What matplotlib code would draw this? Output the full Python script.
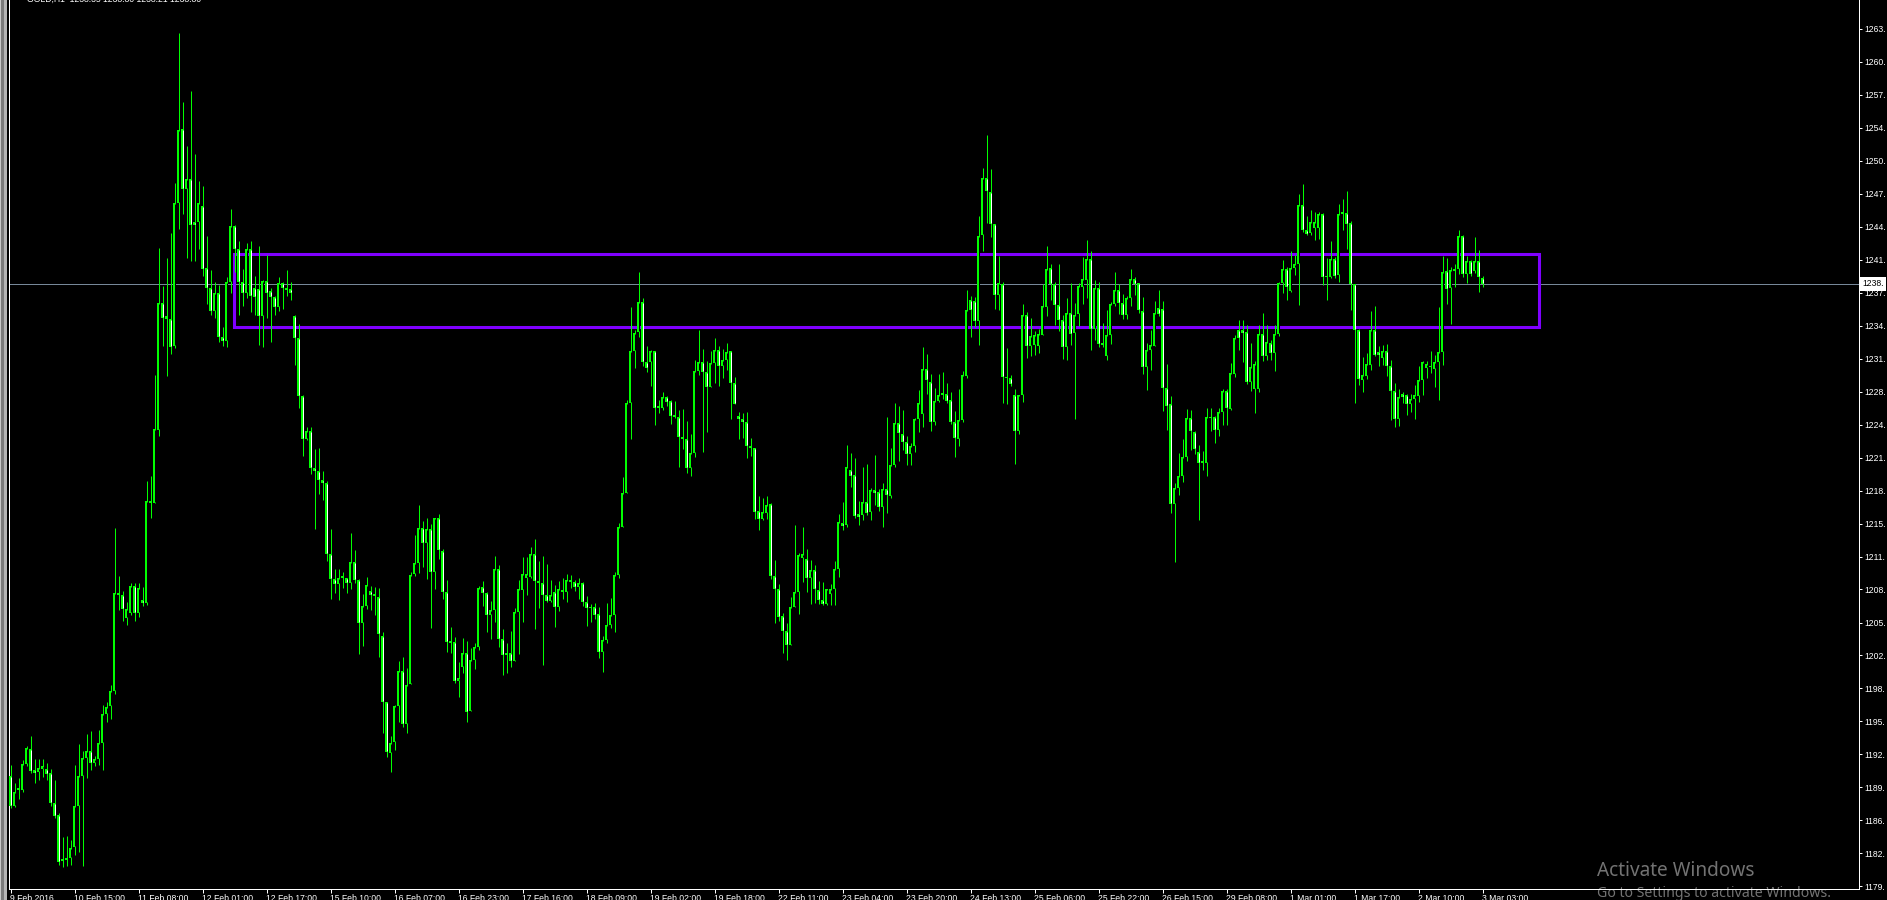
import matplotlib
matplotlib.use('Agg')
import matplotlib.pyplot as plt
from matplotlib.patches import Rectangle
import matplotlib.transforms as mtransforms

plt.rcParams['font.family'] = ['Liberation Sans', 'DejaVu Sans']

# GOLD H1, 9 Feb 2016 .. 3 Mar 2016 03:00 (one entry per hourly bar)
opens = [
    1190.4, 1187.4, 1189.0, 1189.0, 1191.6, 1193.0, 1191.0, 1190.8, 1191.1, 1191.1,
    1190.7, 1187.7, 1186.5, 1182.2, 1182.1, 1182.3, 1183.4, 1187.4, 1190.4, 1192.1,
    1192.8, 1191.7, 1192.0, 1193.6, 1196.5, 1197.3, 1198.7, 1208.4, 1208.2, 1205.9,
    1206.4, 1209.1, 1206.4, 1207.7, 1207.4, 1217.4, 1217.2, 1224.4, 1236.9, 1235.6,
    1235.4, 1232.7, 1246.8, 1254.1, 1248.1, 1249.1, 1244.9, 1244.9, 1246.5, 1240.4,
    1238.4, 1236.1, 1237.9, 1233.6, 1233.2, 1239.0, 1244.5, 1242.2, 1239.0, 1237.9,
    1242.2, 1238.4, 1238.3, 1235.6, 1239.1, 1238.1, 1237.5, 1236.5, 1238.9, 1238.4,
    1238.3, 1235.6, 1233.5, 1227.8, 1223.5, 1224.3, 1220.7, 1220.4, 1219.5, 1219.2,
    1212.2, 1209.8, 1209.3, 1209.9, 1209.9, 1209.4, 1211.4, 1209.7, 1205.4, 1207.1,
    1208.6, 1208.3, 1208.0, 1204.2, 1197.7, 1192.6, 1193.7, 1197.3, 1200.7, 1195.5,
    1199.4, 1210.3, 1211.3, 1214.8, 1213.3, 1214.7, 1210.5, 1215.8, 1212.5, 1208.5,
    1203.7, 1203.6, 1199.7, 1201.1, 1202.5, 1196.8, 1201.8, 1203.1, 1209.0, 1208.4,
    1206.2, 1206.7, 1210.7, 1203.9, 1202.5, 1202.5, 1201.7, 1206.5, 1208.7, 1209.9,
    1210.0, 1212.2, 1209.6, 1209.4, 1208.2, 1207.6, 1208.5, 1207.0, 1208.7, 1208.5,
    1209.7, 1209.5, 1209.0, 1209.4, 1207.5, 1207.0, 1207.0, 1206.3, 1202.6, 1203.8,
    1205.2, 1206.2, 1210.2, 1214.9, 1218.2, 1227.1, 1232.2, 1234.1, 1237.0, 1231.1,
    1231.1, 1232.2, 1226.8, 1226.6, 1227.7, 1227.3, 1225.9, 1225.7, 1223.7, 1223.5,
    1220.7, 1222.2, 1230.2, 1231.1, 1230.1, 1228.7, 1231.0, 1232.3, 1230.7, 1231.3,
    1232.2, 1229.1, 1225.8, 1225.5, 1225.2, 1222.9, 1222.7, 1216.5, 1215.7, 1216.3,
    1217.1, 1210.1, 1208.8, 1206.1, 1204.6, 1203.3, 1207.0, 1208.5, 1211.8, 1211.7,
    1209.9, 1210.6, 1208.7, 1207.7, 1207.3, 1208.3, 1208.8, 1210.7, 1215.3, 1215.1,
    1220.5, 1220.0, 1216.2, 1216.1, 1217.3, 1216.4, 1218.5, 1218.3, 1216.8, 1218.6,
    1217.9, 1221.0, 1225.1, 1224.0, 1223.2, 1222.1, 1222.9, 1225.5, 1226.0, 1230.4,
    1229.2, 1225.2, 1227.3, 1228.1, 1228.0, 1227.4, 1225.2, 1223.5, 1225.4, 1229.7,
    1237.2, 1237.1, 1235.2, 1243.6, 1249.2, 1247.9, 1244.7, 1237.7, 1238.8, 1229.6,
    1229.5, 1227.9, 1224.3, 1227.9, 1235.7, 1232.7, 1232.8, 1232.7, 1233.8, 1236.5,
    1240.4, 1238.8, 1236.7, 1235.3, 1232.6, 1235.9, 1234.0, 1235.8, 1238.5, 1239.2,
    1241.3, 1234.4, 1238.4, 1233.0, 1231.7, 1233.8, 1236.8, 1238.2, 1236.9, 1235.7,
    1237.4, 1239.3, 1238.9, 1236.1, 1230.6, 1232.3, 1232.7, 1236.4, 1236.3, 1228.6,
    1227.0, 1217.1, 1218.7, 1219.9, 1221.8, 1225.6, 1224.2, 1222.3, 1221.4, 1221.2,
    1225.7, 1225.7, 1224.4, 1226.2, 1228.3, 1226.5, 1229.9, 1234.3, 1234.3, 1234.1,
    1229.2, 1228.5, 1228.5, 1233.9, 1231.7, 1233.0, 1232.0, 1233.9, 1238.9, 1240.3,
    1238.1, 1240.4, 1240.8, 1246.6, 1244.1, 1243.8, 1244.3, 1244.3, 1245.7, 1239.6,
    1239.5, 1241.3, 1239.7, 1245.9, 1245.8, 1244.8, 1238.8, 1234.3, 1229.3, 1229.7,
    1230.8, 1234.3, 1232.1, 1231.5, 1232.2, 1230.7, 1228.3, 1225.5, 1228.0, 1227.9,
    1227.0, 1227.5, 1227.8, 1229.3, 1230.5, 1230.6, 1230.4, 1231.1, 1232.1, 1240.1,
    1238.4, 1240.1, 1240.3, 1243.5, 1239.8, 1241.1, 1240.1, 1241.1, 1239.4,
]
highs = [
    1191.5, 1189.7, 1190.2, 1191.9, 1193.3, 1194.3, 1192.0, 1192.0, 1192.0, 1191.7,
    1191.1, 1190.0, 1186.7, 1184.4, 1184.5, 1184.1, 1191.5, 1193.5, 1192.8, 1194.5,
    1194.8, 1192.3, 1194.9, 1197.4, 1197.7, 1199.3, 1214.8, 1210.1, 1208.6, 1207.5,
    1209.4, 1209.4, 1209.4, 1209.0, 1219.4, 1219.9, 1229.8, 1242.3, 1238.6, 1241.4,
    1243.8, 1248.7, 1263.5, 1256.7, 1252.4, 1257.8, 1251.6, 1248.9, 1248.4, 1243.5,
    1240.2, 1239.0, 1238.7, 1234.6, 1239.5, 1246.2, 1244.6, 1243.0, 1240.3, 1242.8,
    1243.0, 1239.6, 1242.5, 1239.2, 1241.7, 1238.4, 1237.6, 1239.5, 1239.0, 1240.2,
    1239.0, 1235.7, 1234.9, 1227.9, 1224.7, 1224.7, 1222.6, 1222.7, 1220.4, 1219.4,
    1214.7, 1210.7, 1210.7, 1210.5, 1209.9, 1214.3, 1212.6, 1209.8, 1208.3, 1210.0,
    1209.1, 1209.0, 1208.9, 1204.5, 1197.7, 1194.3, 1197.4, 1201.7, 1202.1, 1201.0,
    1210.5, 1214.1, 1217.0, 1215.5, 1215.8, 1215.2, 1215.8, 1216.2, 1212.7, 1209.7,
    1205.0, 1204.1, 1201.6, 1204.0, 1203.7, 1203.0, 1203.5, 1209.1, 1209.6, 1208.5,
    1207.6, 1212.0, 1211.1, 1204.8, 1203.5, 1204.6, 1206.9, 1209.7, 1211.9, 1211.9,
    1212.9, 1213.7, 1211.5, 1212.0, 1211.2, 1209.7, 1209.2, 1209.6, 1209.9, 1210.3,
    1210.2, 1209.7, 1209.9, 1209.5, 1208.1, 1207.3, 1207.4, 1207.0, 1204.2, 1207.4,
    1207.9, 1210.5, 1215.3, 1219.8, 1227.4, 1236.5, 1234.3, 1240.0, 1237.4, 1232.7,
    1232.3, 1232.2, 1227.4, 1228.2, 1227.8, 1227.4, 1227.3, 1226.4, 1226.5, 1225.3,
    1224.0, 1231.3, 1234.3, 1232.4, 1231.2, 1232.2, 1233.5, 1232.7, 1232.4, 1233.0,
    1232.2, 1229.6, 1226.2, 1226.1, 1226.2, 1223.6, 1222.7, 1217.9, 1217.7, 1217.9,
    1217.2, 1211.6, 1209.3, 1206.4, 1205.4, 1208.0, 1215.1, 1212.3, 1214.9, 1212.7,
    1211.6, 1211.1, 1209.6, 1209.5, 1208.8, 1209.3, 1211.5, 1216.2, 1217.3, 1223.0,
    1222.2, 1221.7, 1217.4, 1220.8, 1221.1, 1218.7, 1222.0, 1218.6, 1219.2, 1225.7,
    1222.7, 1227.1, 1226.8, 1226.4, 1223.8, 1223.1, 1225.6, 1228.4, 1232.6, 1231.9,
    1229.9, 1228.6, 1229.9, 1230.1, 1229.1, 1228.2, 1226.3, 1228.5, 1230.2, 1238.2,
    1237.6, 1237.5, 1245.5, 1250.2, 1253.5, 1250.1, 1244.7, 1241.6, 1239.0, 1232.5,
    1229.8, 1228.5, 1227.9, 1236.8, 1236.0, 1235.5, 1234.2, 1234.4, 1238.8, 1242.5,
    1240.8, 1239.0, 1240.8, 1235.7, 1237.4, 1238.9, 1236.9, 1238.9, 1241.5, 1243.1,
    1242.0, 1239.2, 1239.0, 1235.0, 1236.2, 1237.0, 1240.0, 1238.8, 1237.8, 1237.6,
    1240.3, 1239.5, 1238.9, 1237.5, 1233.0, 1234.3, 1237.1, 1238.2, 1237.1, 1230.9,
    1227.8, 1219.2, 1222.2, 1223.5, 1226.5, 1226.4, 1224.3, 1223.0, 1222.4, 1226.6,
    1226.6, 1225.8, 1226.6, 1228.5, 1228.5, 1231.0, 1233.8, 1235.3, 1235.3, 1234.8,
    1233.0, 1231.2, 1234.8, 1235.9, 1234.8, 1233.3, 1234.8, 1239.0, 1241.2, 1240.5,
    1242.0, 1241.7, 1247.7, 1248.6, 1245.5, 1246.1, 1245.9, 1245.9, 1245.8, 1241.4,
    1243.0, 1241.5, 1246.7, 1247.2, 1248.0, 1245.0, 1238.8, 1234.4, 1231.6, 1232.0,
    1236.1, 1236.6, 1232.7, 1232.8, 1232.9, 1231.3, 1229.1, 1228.5, 1228.2, 1228.0,
    1228.0, 1228.9, 1230.7, 1231.2, 1231.2, 1232.2, 1231.8, 1236.5, 1241.6, 1241.4,
    1240.5, 1240.8, 1244.1, 1243.6, 1241.6, 1241.2, 1243.4, 1242.1, 1239.6,
]
lows = [
    1187.2, 1187.3, 1188.1, 1188.8, 1191.4, 1190.7, 1189.7, 1190.0, 1190.3, 1190.0,
    1187.4, 1186.2, 1181.6, 1181.4, 1181.5, 1181.6, 1182.6, 1182.9, 1181.5, 1190.2,
    1191.0, 1191.4, 1191.5, 1191.0, 1195.7, 1196.0, 1198.4, 1206.7, 1205.6, 1205.2,
    1206.2, 1205.6, 1206.0, 1207.1, 1207.2, 1215.8, 1217.2, 1223.8, 1232.7, 1229.7,
    1231.9, 1232.5, 1244.2, 1245.7, 1241.4, 1241.1, 1241.1, 1242.2, 1239.6, 1236.8,
    1235.7, 1235.5, 1233.1, 1232.7, 1232.6, 1237.9, 1240.0, 1235.7, 1236.6, 1237.4,
    1236.0, 1235.7, 1232.8, 1232.6, 1235.5, 1233.1, 1235.7, 1236.1, 1236.3, 1237.6,
    1237.2, 1230.8, 1226.6, 1221.9, 1223.4, 1220.1, 1214.7, 1218.1, 1217.5, 1211.5,
    1207.8, 1208.4, 1207.7, 1208.9, 1208.4, 1208.8, 1209.4, 1202.4, 1203.2, 1206.8,
    1206.7, 1206.2, 1202.1, 1194.6, 1192.2, 1190.8, 1192.9, 1195.7, 1195.2, 1194.6,
    1199.4, 1210.1, 1210.4, 1210.9, 1209.8, 1204.9, 1208.8, 1211.7, 1207.8, 1202.6,
    1202.5, 1199.5, 1198.1, 1200.5, 1195.7, 1196.8, 1200.9, 1202.8, 1207.1, 1204.5,
    1203.9, 1205.5, 1203.1, 1200.3, 1200.5, 1201.1, 1201.7, 1202.4, 1205.5, 1208.2,
    1209.9, 1204.8, 1206.9, 1201.3, 1207.5, 1207.5, 1205.0, 1206.6, 1207.8, 1207.5,
    1208.9, 1208.6, 1207.8, 1207.1, 1205.1, 1205.5, 1205.8, 1202.0, 1200.6, 1203.5,
    1204.9, 1204.5, 1209.9, 1214.9, 1218.2, 1223.5, 1230.5, 1233.6, 1230.7, 1230.1,
    1228.8, 1224.9, 1226.1, 1226.4, 1226.8, 1225.0, 1225.6, 1220.8, 1222.6, 1220.2,
    1219.9, 1221.8, 1229.8, 1222.3, 1224.2, 1228.7, 1229.1, 1228.8, 1229.5, 1230.3,
    1225.5, 1227.0, 1223.5, 1223.6, 1221.7, 1221.9, 1215.7, 1214.6, 1215.6, 1215.7,
    1209.8, 1205.4, 1205.6, 1202.5, 1201.8, 1203.3, 1207.0, 1206.3, 1209.5, 1208.5,
    1207.3, 1207.4, 1207.3, 1207.2, 1207.2, 1207.2, 1207.2, 1210.0, 1214.6, 1214.9,
    1218.8, 1215.8, 1215.1, 1215.6, 1216.1, 1215.6, 1217.0, 1216.5, 1214.9, 1216.3,
    1217.7, 1220.8, 1221.4, 1222.5, 1221.0, 1221.0, 1222.3, 1224.2, 1224.7, 1228.0,
    1224.3, 1224.9, 1227.2, 1227.5, 1227.1, 1225.0, 1221.8, 1222.9, 1225.2, 1229.5,
    1233.6, 1234.6, 1232.8, 1242.0, 1244.8, 1243.4, 1236.3, 1236.2, 1227.1, 1227.0,
    1228.8, 1221.1, 1224.0, 1227.2, 1231.5, 1231.7, 1231.8, 1232.0, 1233.8, 1235.6,
    1237.2, 1234.8, 1234.2, 1231.4, 1231.3, 1232.8, 1225.5, 1234.7, 1236.8, 1237.4,
    1232.3, 1233.3, 1232.6, 1232.6, 1231.3, 1232.9, 1236.6, 1235.8, 1235.4, 1235.4,
    1236.6, 1237.7, 1235.9, 1229.9, 1228.4, 1230.3, 1232.7, 1235.6, 1226.3, 1224.4,
    1216.3, 1211.4, 1218.0, 1219.3, 1221.4, 1222.5, 1222.1, 1215.6, 1220.5, 1219.9,
    1224.3, 1223.1, 1223.8, 1224.9, 1224.9, 1226.4, 1229.6, 1232.3, 1231.1, 1229.0,
    1228.3, 1226.1, 1228.2, 1231.2, 1231.3, 1231.3, 1230.2, 1233.7, 1237.9, 1237.2,
    1238.0, 1239.7, 1236.7, 1243.9, 1243.6, 1243.6, 1243.1, 1243.2, 1238.7, 1237.2,
    1239.4, 1239.4, 1239.0, 1244.1, 1242.2, 1236.2, 1227.1, 1228.9, 1228.2, 1229.4,
    1230.3, 1231.7, 1230.7, 1230.8, 1229.7, 1225.4, 1224.7, 1224.8, 1227.1, 1225.9,
    1226.2, 1225.5, 1227.2, 1227.9, 1229.5, 1230.0, 1228.7, 1227.4, 1230.8, 1236.8,
    1234.9, 1238.5, 1239.8, 1239.5, 1238.9, 1239.6, 1239.9, 1238.0, 1238.5,
]
closes = [
    1187.4, 1188.8, 1189.2, 1191.6, 1193.1, 1190.9, 1190.7, 1191.2, 1191.4, 1190.6,
    1187.7, 1186.4, 1181.9, 1182.0, 1182.3, 1183.3, 1187.4, 1190.4, 1192.1, 1192.8,
    1191.7, 1192.0, 1193.6, 1196.5, 1197.2, 1198.7, 1208.4, 1208.2, 1206.8, 1206.8,
    1209.1, 1206.4, 1208.9, 1207.4, 1217.4, 1217.2, 1224.5, 1236.9, 1235.5, 1235.4,
    1232.6, 1246.8, 1254.0, 1248.1, 1249.1, 1244.6, 1244.6, 1246.8, 1240.3, 1238.4,
    1236.1, 1237.9, 1233.6, 1233.2, 1239.0, 1244.5, 1242.2, 1239.0, 1237.9, 1242.2,
    1237.6, 1237.5, 1235.6, 1239.1, 1237.9, 1237.5, 1236.5, 1238.9, 1238.4, 1238.2,
    1237.9, 1233.5, 1227.8, 1223.5, 1224.3, 1220.7, 1220.4, 1219.5, 1219.2, 1212.2,
    1209.8, 1209.3, 1209.9, 1210.1, 1209.4, 1211.4, 1209.7, 1205.4, 1207.1, 1209.2,
    1208.2, 1208.1, 1204.3, 1197.7, 1192.7, 1193.6, 1197.3, 1200.7, 1195.5, 1199.3,
    1210.2, 1211.3, 1214.8, 1213.3, 1214.7, 1210.5, 1215.8, 1212.6, 1208.5, 1203.6,
    1203.5, 1199.7, 1200.0, 1202.5, 1196.7, 1201.8, 1203.1, 1208.9, 1208.4, 1206.2,
    1206.7, 1210.7, 1203.9, 1202.3, 1202.3, 1201.7, 1206.5, 1208.8, 1210.3, 1210.3,
    1212.2, 1209.6, 1209.4, 1208.2, 1207.6, 1208.2, 1207.0, 1208.8, 1208.5, 1209.7,
    1209.5, 1209.0, 1209.4, 1207.5, 1206.9, 1206.9, 1206.2, 1202.6, 1203.8, 1205.2,
    1206.2, 1210.2, 1214.9, 1218.2, 1227.1, 1232.2, 1234.0, 1237.0, 1231.1, 1230.5,
    1232.2, 1226.6, 1226.6, 1227.7, 1227.2, 1225.8, 1225.7, 1223.7, 1223.5, 1220.7,
    1222.2, 1230.2, 1231.1, 1230.1, 1228.7, 1231.0, 1232.3, 1230.7, 1231.3, 1232.1,
    1229.1, 1227.0, 1225.5, 1225.2, 1222.9, 1222.7, 1216.4, 1215.7, 1216.4, 1217.0,
    1210.1, 1208.8, 1206.0, 1204.6, 1203.3, 1207.0, 1208.5, 1212.1, 1212.2, 1209.9,
    1210.6, 1208.8, 1207.7, 1207.3, 1208.8, 1208.8, 1210.7, 1215.4, 1215.0, 1220.8,
    1219.9, 1216.0, 1215.9, 1217.3, 1216.3, 1218.5, 1218.2, 1216.8, 1218.6, 1218.0,
    1221.0, 1225.1, 1224.1, 1223.2, 1222.1, 1222.9, 1225.5, 1227.1, 1230.4, 1229.3,
    1225.2, 1227.3, 1227.9, 1227.9, 1227.3, 1225.2, 1223.6, 1225.4, 1229.8, 1236.2,
    1236.2, 1235.2, 1243.5, 1249.2, 1248.0, 1244.7, 1237.7, 1238.9, 1229.6, 1229.5,
    1229.0, 1224.3, 1227.9, 1235.7, 1232.7, 1233.7, 1233.8, 1233.9, 1236.6, 1240.3,
    1238.8, 1236.7, 1235.3, 1232.6, 1235.9, 1233.9, 1235.7, 1238.6, 1239.3, 1241.3,
    1234.4, 1238.4, 1232.9, 1232.8, 1233.8, 1236.8, 1238.2, 1236.9, 1235.7, 1237.4,
    1239.3, 1238.8, 1236.2, 1230.6, 1232.3, 1232.8, 1235.9, 1235.8, 1228.6, 1226.8,
    1217.1, 1218.7, 1219.9, 1221.8, 1225.6, 1224.3, 1222.6, 1221.2, 1221.2, 1225.7,
    1225.6, 1224.4, 1226.2, 1228.3, 1226.6, 1230.0, 1233.5, 1233.5, 1234.0, 1229.2,
    1230.6, 1230.9, 1233.9, 1231.7, 1233.1, 1232.0, 1233.9, 1238.9, 1240.3, 1238.5,
    1240.4, 1240.8, 1246.6, 1244.1, 1243.7, 1244.9, 1244.9, 1245.7, 1239.5, 1239.5,
    1241.3, 1239.6, 1245.7, 1245.7, 1244.7, 1238.8, 1234.3, 1229.4, 1229.8, 1230.9,
    1234.3, 1231.8, 1231.8, 1232.2, 1230.7, 1228.3, 1225.5, 1227.7, 1227.7, 1227.0,
    1227.5, 1227.9, 1229.3, 1231.1, 1230.9, 1230.6, 1231.1, 1232.1, 1240.0, 1238.3,
    1240.2, 1240.3, 1243.5, 1239.8, 1241.1, 1239.8, 1241.1, 1239.5, 1238.8,
]

# time axis labels, one every 16 bars
time_ticks = [0, 16, 32, 48, 64, 80, 96, 112, 128, 144, 160, 176,
              192, 208, 224, 240, 256, 272, 288, 304, 320, 336, 352, 368]
time_labels = ['9 Feb 2016', '10 Feb 15:00', '11 Feb 08:00', '12 Feb 01:00',
               '12 Feb 17:00', '15 Feb 10:00', '16 Feb 07:00', '16 Feb 23:00',
               '17 Feb 16:00', '18 Feb 09:00', '19 Feb 02:00', '19 Feb 18:00',
               '22 Feb 11:00', '23 Feb 04:00', '23 Feb 20:00', '24 Feb 13:00',
               '25 Feb 06:00', '25 Feb 22:00', '26 Feb 15:00', '29 Feb 08:00',
               '1 Mar 01:00', '1 Mar 17:00', '2 Mar 10:00', '3 Mar 03:00']

price_ticks = [1263.90, 1260.65, 1257.41, 1254.16, 1250.92, 1247.67, 1244.43,
               1241.18, 1237.94, 1234.69, 1231.45, 1228.20, 1224.95, 1221.71,
               1218.46, 1215.22, 1211.97, 1208.73, 1205.48, 1202.24, 1198.99,
               1195.74, 1192.50, 1189.25, 1186.01, 1182.76, 1179.52]
# the price scale is cut by the window edge, only the integer part shows
price_labels = ['1263.', '1260.', '1257.', '1254.', '1250.', '1247.', '1244.',
                '1241.', '1237.', '1234.', '1231.', '1228.', '1224.', '1221.',
                '1218.', '1215.', '1211.', '1208.', '1205.', '1202.', '1198.',
                '1195.', '1192.', '1189.', '1186.', '1182.', '1179.']

bid = 1238.80
bid_label = '1238.'
# drawn zone (rectangle object)
zone_left, zone_right = 55.9, 382.0
zone_bottom, zone_top = 1234.53, 1241.72

W, H = 1887, 900
fig = plt.figure(figsize=(W / 100, H / 100), dpi=100, facecolor='black')
ax = fig.add_axes([9 / W, 11 / H, 1850 / W, 889 / H])
ax.set_facecolor('black')

# window border strip on the far left
for x0, x1, c in [(0, 1.3, '#c8c8c8'), (1.3, 4, '#7a7a7a'), (4, 6.7, '#b4b4b4')]:
    fig.patches.append(Rectangle((x0 / W, 0), (x1 - x0) / W, 1, transform=fig.transFigure,
                                 facecolor=c, edgecolor='none'))

ymin, ymax = 1179.25, 1266.75
px = (ymax - ymin) / 889  # price per pixel
lw1 = 0.72  # one pixel at 100 dpi

x = list(range(len(closes)))
ax.axhline(bid, color='#778899', lw=lw1, zorder=1)

ax.add_patch(Rectangle((zone_left, zone_bottom), zone_right - zone_left, zone_top - zone_bottom,
                       fill=False, edgecolor='#7f00ff', linewidth=2.2, zorder=2))

# wicks
ax.vlines(x, lows, highs, colors='#00ff00', linewidth=lw1, zorder=3)
# green body blocks, 3 px wide
bottoms = [min(o, c) for o, c in zip(opens, closes)]
tops = [max(o, c) for o, c in zip(opens, closes)]
heights = [max(t - b, px) for b, t in zip(bottoms, tops)]
ax.bar(x, heights, bottom=bottoms, width=0.75, color='#00ff00', linewidth=0,
       zorder=4, antialiased=False)
# 1 px core: white for falling bars, black for rising bars
core_x, core_lo, core_hi, core_c = [], [], [], []
for i, (o, c, b, t) in enumerate(zip(opens, closes, bottoms, tops)):
    if t - b > 2.2 * px:
        core_x.append(i)
        core_lo.append(b + px)
        core_hi.append(t - px)
        core_c.append('black' if c >= o else 'white')
ax.vlines(core_x, core_lo, core_hi, colors=core_c, linewidth=lw1, zorder=5)

# bar i sits on pixel column 10 + 4 i
ax.set_xlim(-0.375, 462.125)
ax.set_ylim(ymin, ymax)

ax.yaxis.tick_right()
ax.set_yticks(price_ticks)
ax.set_yticklabels(price_labels)
ax.tick_params(axis='y', colors='white', length=2.5, width=lw1, pad=1.5, labelsize=6.2)

ax.set_xticks(time_ticks)
ax.set_xticklabels(time_labels)
ax.tick_params(axis='x', colors='white', length=3, width=lw1, pad=0.5, labelsize=6.2)
for lbl in ax.get_xticklabels():
    lbl.set_horizontalalignment('left')

for side in ['left', 'right', 'bottom']:
    ax.spines[side].set_color('white')
    ax.spines[side].set_linewidth(lw1)
ax.spines['top'].set_visible(False)

trans = mtransforms.blended_transform_factory(ax.transAxes, ax.transData)
ax.text(1.0 + 3 / 1850, bid, bid_label, transform=trans, ha='left', va='center',
        fontsize=6.2, color='black', clip_on=False, zorder=10,
        bbox=dict(boxstyle='square,pad=0.3', facecolor='white', edgecolor='none'))

# chart header, mostly cut off by the top edge
fig.text(27 / W, 1 - 1.5 / H, 'GOLD,H1  1238.35 1238.80 1238.21 1238.80', color='white',
         fontsize=6.2, va='baseline')

# windows watermark
fig.text(1597 / W, (H - 876) / H, 'Activate Windows', family=['Noto Sans', 'DejaVu Sans'],
         fontsize=13.7, color='white', alpha=0.45, va='baseline')
fig.text(1597 / W, (H - 897) / H, 'Go to Settings to activate Windows.',
         family=['Noto Sans', 'DejaVu Sans'], fontsize=10.2, color='white', alpha=0.45,
         va='baseline')

fig.savefig('out.png', dpi=100, facecolor='black')
